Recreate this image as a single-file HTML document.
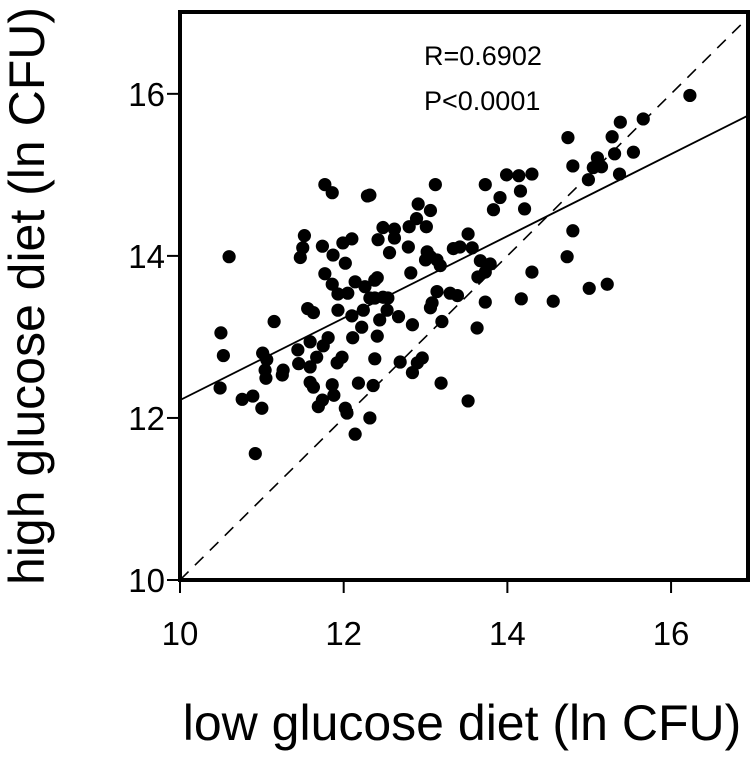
<!DOCTYPE html>
<html><head><meta charset="utf-8"><style>
html,body{margin:0;padding:0;background:#fff;}
svg{display:block;font-family:"Liberation Sans",Arial,sans-serif;}
</style></head><body>
<svg id="chart" width="750" height="760" viewBox="0 0 750 760" xmlns="http://www.w3.org/2000/svg">
<g id="marks"></g>
<g id="axes"></g>
<text x="424" y="65" font-size="27">R=0.6902</text>
<text x="424" y="110" font-size="27">P&lt;0.0001</text>
<text x="462" y="740" font-size="50" text-anchor="middle">low glucose diet (ln CFU)</text>
<text transform="translate(44,296) rotate(-90)" font-size="50" text-anchor="middle">high glucose diet (ln CFU)</text>
</svg>
<script>
const lowGlucose = [16.23,15.66,15.38,14.74,15.28,15.54,15.31,15.10,14.80,15.05,15.15,14.99,15.37,14.80,14.73,15.00,15.22,14.56,
13.12,13.73,13.99,14.14,14.30,14.16,13.91,13.83,14.21,12.91,13.06,12.89,13.01,12.80,12.48,12.62,12.62,12.42,12.79,12.56,13.52,13.42,13.34,13.57,13.02,13.06,13.14,13.18,13.00,13.67,13.79,13.73,13.64,12.82,14.30,12.41,12.38,12.48,12.54,13.14,13.30,13.39,13.08,13.06,13.73,14.17,12.53,12.44,12.67,12.84,13.20,13.63,12.41,12.38,12.69,12.96,12.90,12.84,12.36,13.19,13.52,12.32,
11.77,11.86,12.29,10.60,11.52,11.50,11.47,11.74,11.87,11.99,12.10,12.02,11.77,11.86,11.93,12.05,12.14,12.26,12.38,12.32,11.56,11.63,11.93,12.10,12.24,12.22,11.15,10.50,10.53,11.59,11.81,11.75,12.11,11.44,11.01,11.06,11.67,11.98,11.92,11.45,11.59,11.04,11.26,11.05,11.25,11.59,11.63,11.86,11.88,12.18,10.49,10.76,10.89,11.00,11.74,11.69,12.02,12.04,12.32,12.14,10.92];
const highGlucose = [15.98,15.69,15.65,15.46,15.47,15.28,15.26,15.21,15.11,15.09,15.10,14.94,15.01,14.31,13.99,13.60,13.65,13.44,
14.88,14.88,15.00,14.99,15.01,14.80,14.72,14.57,14.58,14.64,14.56,14.46,14.36,14.36,14.35,14.33,14.22,14.20,14.11,14.04,14.27,14.11,14.09,14.10,14.05,13.99,13.95,13.88,13.95,13.94,13.90,13.80,13.74,13.79,13.80,13.73,13.48,13.49,13.48,13.56,13.54,13.51,13.42,13.36,13.43,13.47,13.33,13.21,13.25,13.15,13.19,13.11,13.01,12.73,12.69,12.74,12.68,12.56,12.40,12.43,12.21,14.75,
14.88,14.78,14.74,13.99,14.25,14.10,13.98,14.12,14.01,14.16,14.21,13.91,13.78,13.65,13.53,13.54,13.68,13.62,13.70,13.48,13.35,13.30,13.33,13.26,13.33,13.12,13.19,13.05,12.77,12.94,12.99,12.89,12.99,12.84,12.80,12.72,12.75,12.75,12.68,12.67,12.63,12.59,12.59,12.49,12.53,12.44,12.38,12.41,12.28,12.43,12.37,12.23,12.27,12.12,12.22,12.14,12.12,12.06,12.00,11.80,11.56];
const xTicks = [10,12,14,16];
const yTicks = [10,12,14,16];
const fitIntercept = 12.22, fitSlope = 0.506;

const NS='http://www.w3.org/2000/svg';
const L=180,R=748,T=12,B=580;
const xMin=10,xMax=16.94,yMin=10,yMax=17.01;
const sx=v=>L+(v-xMin)/(xMax-xMin)*(R-L);
const sy=v=>B-(v-yMin)/(yMax-yMin)*(B-T);
function mk(tag,attrs,parent){const e=document.createElementNS(NS,tag);for(const k in attrs)e.setAttribute(k,attrs[k]);parent.appendChild(e);return e;}
const marks=document.getElementById('marks');
const axes=document.getElementById('axes');
const defs=mk('clipPath',{id:'clip'},marks);
mk('rect',{x:L,y:T,width:R-L,height:B-T},defs);
const g=mk('g',{'clip-path':'url(#clip)'},marks);
for(let i=0;i<lowGlucose.length;i++){
  const c=mk('circle',{cx:sx(lowGlucose[i]),cy:sy(highGlucose[i]),r:6.6,fill:'#000'},g);
  
  
}
const diag=mk('line',{x1:sx(xMin),y1:sy(xMin),x2:sx(xMax),y2:sy(xMax),stroke:'#000','stroke-width':1.6,'stroke-dasharray':'12,9'},g);


const fit=mk('line',{x1:sx(xMin),y1:sy(fitIntercept),x2:sx(xMax),y2:sy(fitIntercept+fitSlope*(xMax-xMin)),stroke:'#000','stroke-width':1.8},g);


const box=mk('rect',{x:L,y:T,width:R-L,height:B-T,fill:'none',stroke:'#000','stroke-width':4},axes);


xTicks.forEach(v=>{
  const t=mk('line',{x1:sx(v),y1:B,x2:sx(v),y2:B+13,stroke:'#000','stroke-width':2},axes);
  
  
  const l=mk('text',{x:sx(v),y:645,'font-size':33,'text-anchor':'middle'},axes);
  l.textContent=v;
  
  
});
yTicks.forEach(v=>{
  const t=mk('line',{x1:L-13,y1:sy(v),x2:L,y2:sy(v),stroke:'#000','stroke-width':2},axes);
  
  
  const l=mk('text',{x:165,y:sy(v)+12,'font-size':33,'text-anchor':'end'},axes);
  l.textContent=v;
  
  
});
</script>
</body></html>
